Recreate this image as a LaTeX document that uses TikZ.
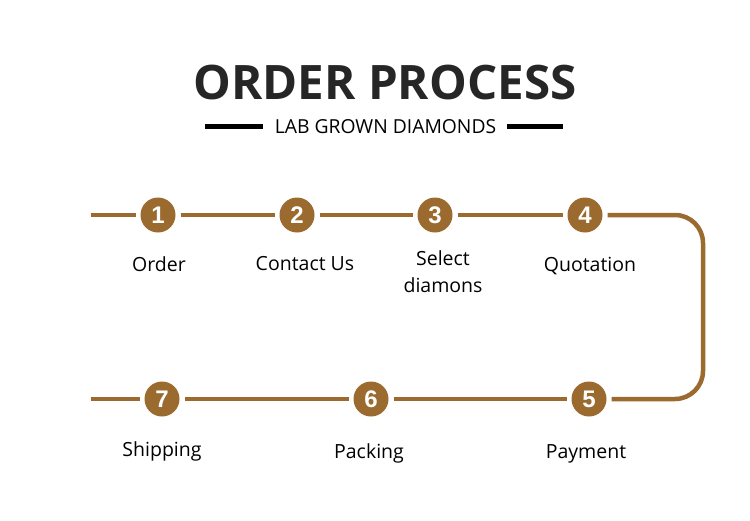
\documentclass[tikz,border=0pt]{standalone}
\usepackage{fontspec}
\setmainfont{Open Sans}
\newfontfamily\digitfont{Liberation Sans}
\definecolor{bronze}{HTML}{9A6A2E}
\definecolor{inkgray}{HTML}{262626}
\newcommand{\stepNum}[1]{{\digitfont\bfseries #1}}

\begin{document}
\begin{tikzpicture}[x=1pt,y=-1pt,
  track/.style={draw=bronze, line width=4.5pt},
  stepdot/.style={circle, fill=bronze, text=white, minimum size=35pt, inner sep=0pt, outer sep=5pt, font=\fontsize{24}{24}\selectfont},
  caption/.style={anchor=center, inner sep=0pt, align=center, font=\fontsize{19.5}{27}\selectfont, text=black},
  bar/.style={draw=black, line width=5pt}]
\useasboundingbox (0,0) rectangle (750,520);
% heading
\node[inner sep=0pt, text=inkgray, font=\fontsize{47.5}{47.5}\selectfont\bfseries] (title) at (385,83) {ORDER PROCESS};
\node[inner sep=0pt, font=\fontsize{19.3}{19.3}\selectfont, text=black] (subtitle) at (385.5,126.5) {LAB GROWN DIAMONDS};
\coordinate (barLa) at (205,126);
\coordinate (barRb) at (563,126);
\draw[bar] (subtitle.west -| barLa) -- ([xshift=-12pt]subtitle.west);
\draw[bar] ([xshift=11pt]subtitle.east) -- (subtitle.east -| barRb);
% steps
\node[stepdot] (n1) at (158,215) {\stepNum{1}};
\node[stepdot] (n2) at (297,215) {\stepNum{2}};
\node[stepdot] (n3) at (435,215) {\stepNum{3}};
\node[stepdot] (n4) at (585,215) {\stepNum{4}};
\node[stepdot] (n5) at (589,399) {\stepNum{5}};
\node[stepdot] (n6) at (371,399) {\stepNum{6}};
\node[stepdot] (n7) at (162,399) {\stepNum{7}};
\coordinate (topStart) at (91,215);
\coordinate (lowEnd) at (91,399);
\coordinate (bend) at (703,307);
% connectors
\draw[track] (topStart) -- (n1);
\draw[track] (n1) -- (n2);
\draw[track] (n2) -- (n3);
\draw[track] (n3) -- (n4);
\draw[track, rounded corners=28pt] (n4) -| (bend) |- (n5);
\draw[track] (n5) -- (n6);
\draw[track] (n6) -- (n7);
\draw[track] (n7) -- (lowEnd);
% labels
\node[caption] (l1) at (159,264) {Order};
\node[caption] (l2) at (305,264) {Contact Us};
\node[caption] (l3) at (443,271.5) {Select\\diamons};
\node[caption] (l4) at (590,266) {Quotation};
\node[caption] (l5) at (586,453.5) {Payment};
\node[caption] (l6) at (369,453) {Packing};
\node[caption] (l7) at (162,451) {Shipping};
\end{tikzpicture}
\end{document}
